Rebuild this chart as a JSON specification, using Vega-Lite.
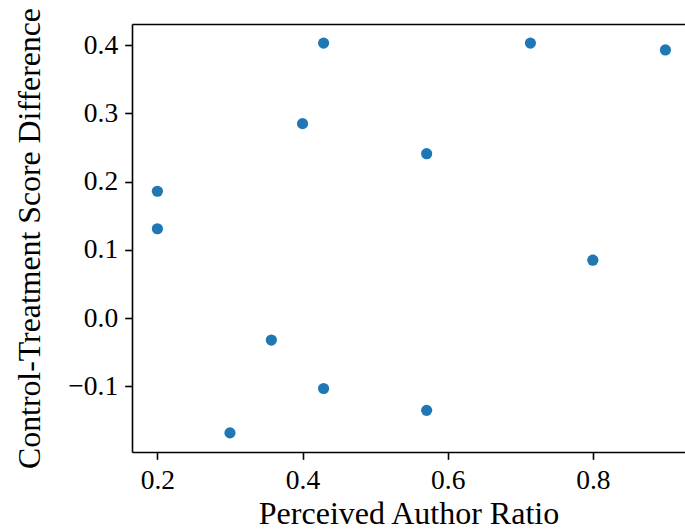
{
  "$schema": "https://vega.github.io/schema/vega-lite/v6.json",
  "width": 553,
  "height": 428,
  "autosize": {"type": "none"},
  "padding": {"left": 132, "top": 24, "right": 0, "bottom": 80},
  "background": "white",
  "config": {
    "view": {"stroke": null},
    "font": "Liberation Serif",
    "axis": {
      "domainColor": "black",
      "domainWidth": 1.6,
      "tickColor": "black",
      "tickWidth": 1.6,
      "tickSize": 7.3,
      "labelPadding": 7,
      "labelFont": "Liberation Serif",
      "labelFontSize": 27.5,
      "labelColor": "black",
      "titleFont": "Liberation Serif",
      "titleFontSize": 32,
      "titleFontWeight": "normal",
      "titleColor": "black",
      "grid": false
    }
  },
  "data": {
    "values": [
      {"ratio": 0.2, "diff": 0.186},
      {"ratio": 0.2, "diff": 0.131},
      {"ratio": 0.3, "diff": -0.168},
      {"ratio": 0.357, "diff": -0.032},
      {"ratio": 0.4, "diff": 0.285},
      {"ratio": 0.429, "diff": 0.403},
      {"ratio": 0.429, "diff": -0.103},
      {"ratio": 0.571, "diff": 0.241},
      {"ratio": 0.571, "diff": -0.135},
      {"ratio": 0.714, "diff": 0.403},
      {"ratio": 0.8, "diff": 0.085},
      {"ratio": 0.9, "diff": 0.393}
    ]
  },
  "layer": [
    {
      "mark": {"type": "point", "filled": true, "size": 125, "color": "#1f77b4", "opacity": 1},
      "encoding": {
        "x": {
          "field": "ratio", "type": "quantitative",
          "scale": {"domain": [0.165, 0.927], "nice": false, "zero": false},
          "axis": {"orient": "bottom", "values": [0.2, 0.4, 0.6, 0.8], "format": ".1f", "title": "Perceived Author Ratio", "titlePadding": 5}
        },
        "y": {
          "field": "diff", "type": "quantitative",
          "scale": {"domain": [-0.196, 0.431], "nice": false, "zero": false},
          "axis": {"values": [-0.1, 0, 0.1, 0.2, 0.3, 0.4], "format": ".1f", "title": "Control-Treatment Score Difference", "titlePadding": 21, "titleFontSize": 31.8}
        }
      }
    },
    {
      "mark": {"type": "point", "opacity": 0},
      "encoding": {
        "x": {
          "field": "ratio", "type": "quantitative",
          "scale": {"domain": [0.165, 0.927], "nice": false, "zero": false},
          "axis": {"orient": "top", "labels": false, "ticks": false, "title": null}
        }
      }
    }
  ],
  "resolve": {"axis": {"x": "independent"}}
}
